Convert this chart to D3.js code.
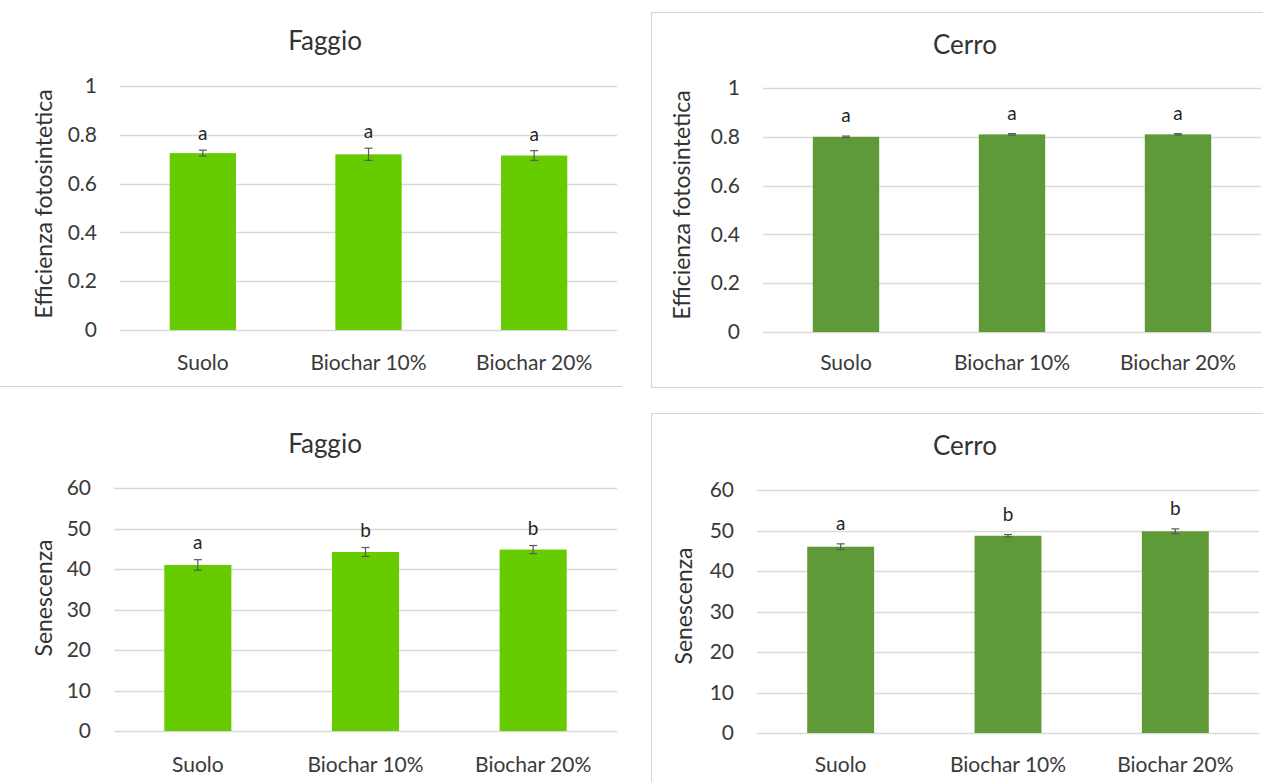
<!DOCTYPE html>
<html>
<head>
<meta charset="utf-8">
<script src="https://cdn.jsdelivr.net/npm/d3@7"></script>
<style>
  body { margin: 0; background: #fff; }
  svg { display: block; font-family: Lato, "Open Sans", sans-serif; }
  .tick text { fill: #3a3a3a; }
</style>
</head>
<body>
<svg id="chart"></svg>
<script>
const categories = ["Suolo", "Biochar 10%", "Biochar 20%"]

// efficienza fotosintetica
const faggioEff = [0.725, 0.72, 0.715]
const faggioEffErr = [0.012, 0.025, 0.02]
const faggioEffLetters = ["a", "a", "a"]
const cerroEff = [0.80, 0.81, 0.81]
const cerroEffErr = [0.003, 0.003, 0.003]
const cerroEffLetters = ["a", "a", "a"]

// senescenza
const faggioSen = [41.0, 44.2, 44.8]
const faggioSenErr = [1.3, 1.1, 1.0]
const faggioSenLetters = ["a", "b", "b"]
const cerroSen = [46.0, 48.7, 49.8]
const cerroSenErr = [0.7, 0.3, 0.6]
const cerroSenLetters = ["a", "b", "b"]

const effTicks = [0, 0.2, 0.4, 0.6, 0.8, 1]
const senTicks = [0, 10, 20, 30, 40, 50, 60]

const faggioColor = "#66cc00"
const cerroColor = "#5e9b38"

const svg = d3.select("#chart").attr("width", 1263).attr("height", 782)

const panels = [
    { title: "Faggio", yLabel: "Efficienza fotosintetica", values: faggioEff, errs: faggioEffErr, letters: faggioEffLetters,
      ticks: effTicks, color: faggioColor, titleX: 325, labelX: 52, labelY: 204,
      left: 120, right: 617, top: 86, bottom: 330, titleY: 50, catY: 370, gap: 10 },
    { title: "Cerro", yLabel: "Efficienza fotosintetica", values: cerroEff, errs: cerroEffErr, letters: cerroEffLetters,
      ticks: effTicks, color: cerroColor, titleX: 965, labelX: 690, labelY: 205,
      left: 763, right: 1261, top: 88, bottom: 332, titleY: 54, catY: 370, gap: 14 },
    { title: "Faggio", yLabel: "Senescenza", values: faggioSen, errs: faggioSenErr, letters: faggioSenLetters,
      ticks: senTicks, color: faggioColor, titleX: 325, labelX: 52, labelY: 598,
      left: 114, right: 617, top: 488, bottom: 731, titleY: 453, catY: 772, gap: 11 },
    { title: "Cerro", yLabel: "Senescenza", values: cerroSen, errs: cerroSenErr, letters: cerroSenLetters,
      ticks: senTicks, color: cerroColor, titleX: 965, labelX: 692, labelY: 606,
      left: 757, right: 1259, top: 490, bottom: 733, titleY: 455, catY: 772, gap: 14 }
]

// panel frames
svg.append("line").attr("x1", 0).attr("x2", 622).attr("y1", 386.5).attr("y2", 386.5)
    .attr("stroke", "#d4d4d4")
svg.append("rect").attr("x", 651.5).attr("y", 12.5).attr("width", 700).attr("height", 375)
    .attr("fill", "none").attr("stroke", "#d4d4d4")
svg.append("rect").attr("x", 651.5).attr("y", 413.5).attr("width", 700).attr("height", 500)
    .attr("fill", "none").attr("stroke", "#d4d4d4")

panels.forEach(p => {
    const g = svg.append("g")

    const x = d3.scaleBand()
        .domain(categories)
        .range([p.left, p.right])
        .paddingInner(0.6)
        .paddingOuter(0.3)

    const y = d3.scaleLinear()
        .domain([0, d3.max(p.ticks)])
        .range([p.bottom, p.top])

    // gridlines
    g.append("g")
        .selectAll("line")
        .data(p.ticks)
        .join("line")
            .attr("x1", p.left)
            .attr("x2", p.right)
            .attr("y1", d => Math.round(y(d)) + 0.5)
            .attr("y2", d => Math.round(y(d)) + 0.5)
            .attr("stroke", "#d9d9d9")
            .attr("stroke-width", 1.3)

    const yAxis = d3.axisLeft(y).tickValues(p.ticks).tickFormat(d => String(d)).tickSize(0).tickPadding(23)
    g.append("g")
        .attr("transform", `translate(${p.left}, 0)`)
        .call(yAxis)
        .call(a => a.select(".domain").remove())
        .selectAll("text")
            .attr("font-size", 21)
            .attr("font-family", "Lato, sans-serif")

    const xAxis = d3.axisBottom(x).tickSize(0).tickPadding(0)
    g.append("g")
        .attr("transform", `translate(0, ${p.catY})`)
        .call(xAxis)
        .call(a => a.select(".domain").remove())
        .selectAll("text")
            .attr("dy", null)
            .attr("y", 0)
            .attr("font-size", 21)
            .attr("font-family", "Lato, sans-serif")

    // bars
    g.append("g")
        .selectAll("rect")
        .data(p.values)
        .join("rect")
            .attr("x", (d, i) => x(categories[i]))
            .attr("width", x.bandwidth())
            .attr("y", d => y(d))
            .attr("height", d => y(0) - y(d))
            .attr("fill", p.color)

    // error bars
    const eb = g.append("g").attr("stroke", "#595959").attr("stroke-width", 1.2)
    p.values.forEach((v, i) => {
        const cx = x(categories[i]) + x.bandwidth() / 2
        const y1 = y(v + p.errs[i]), y2 = y(v - p.errs[i])
        eb.append("line").attr("x1", cx).attr("x2", cx).attr("y1", y1).attr("y2", y2)
        eb.append("line").attr("x1", cx - 4).attr("x2", cx + 4).attr("y1", y1).attr("y2", y1)
        eb.append("line").attr("x1", cx - 4).attr("x2", cx + 4).attr("y1", y2).attr("y2", y2)
    })

    // significance letters
    g.append("g")
        .selectAll("text")
        .data(p.letters)
        .join("text")
            .attr("x", (d, i) => x(categories[i]) + x.bandwidth() / 2)
            .attr("y", (d, i) => y(p.values[i] + p.errs[i]) - p.gap)
            .attr("text-anchor", "middle")
            .attr("font-size", 19)
            .attr("fill", "#262626")
            .text(d => d)

    // title
    g.append("text")
        .attr("x", p.titleX)
        .attr("y", p.titleY)
        .attr("text-anchor", "middle")
        .attr("font-size", 26)
        .attr("fill", "#333")
        .text(p.title)

    // y label
    g.append("text")
        .attr("transform", `translate(${p.labelX}, ${p.labelY}) rotate(-90)`)
        .attr("text-anchor", "middle")
        .attr("font-size", 23)
        .attr("fill", "#333")
        .text(p.yLabel)
})
</script>
</body>
</html>
